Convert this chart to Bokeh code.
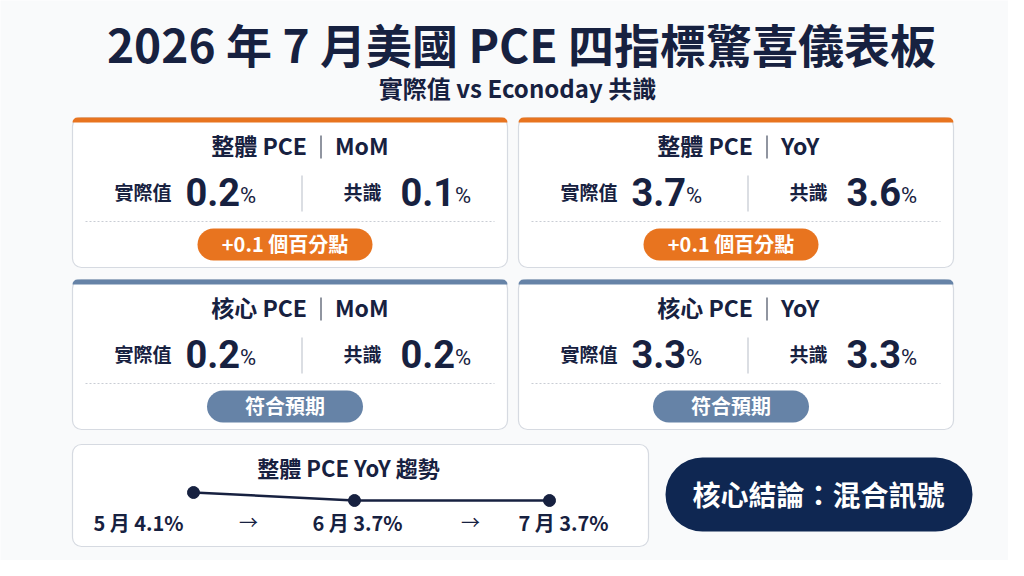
from bokeh.core.properties import value
from bokeh.embed import file_html
from bokeh.models import Range1d
from bokeh.plotting import figure
from bokeh.resources import INLINE

# data
metric_names = ["整體 PCE", "整體 PCE", "核心 PCE", "核心 PCE"]
metric_periods = ["MoM", "YoY", "MoM", "YoY"]
actual = [0.2, 3.7, 0.2, 3.3]
consensus = [0.1, 3.6, 0.2, 3.3]
badge_texts = ["+0.1 個百分點", "+0.1 個百分點", "符合預期", "符合預期"]

trend_months = ["5 月", "6 月", "7 月"]
trend_yoy = [4.1, 3.7, 3.7]

title = "2026 年 7 月美國 PCE 四指標驚喜儀表板"
subtitle = "實際值 vs Econoday 共識"
conclusion = "核心結論：混合訊號"

# styles
CJK = "Noto Sans CJK TC"
NUM = "Roboto"
NAVY = "#172140"
ORANGE = "#e8741f"
SLATE = "#6683a7"
BORDER = "#d6dae1"
BG = "#f9fafb"

# layout (pixel coordinates, y measured from the top)
card_lefts = [72, 518]
card_tops = [117, 279]
card_w, card_h = 435, 150
trend_box = (72, 648, 444, 546)
trend_pt_x = [193, 354, 549]
trend_label_x = [138, 357, 563]
arrow_x = [248, 470]

W, H = 1008, 560


def Y(y):
    return H - y


p = figure(width=W, height=H, x_range=Range1d(0, W), y_range=Range1d(0, H),
           output_backend="svg", toolbar_location=None, min_border=0)
p.axis.visible = False
p.grid.visible = False
p.outline_line_color = None
p.background_fill_color = BG
p.border_fill_color = BG


def txt(x, y, s, size, color=NAVY, align="center", font=CJK, style="bold"):
    p.text(x=[x], y=[Y(y)], text=[s], text_font=value(font), text_font_style=style,
           text_font_size=f"{size}px", text_color=color, text_align=align,
           text_baseline="middle")


def box(l, r, t, b, fill, line=None, radius=0, lw=1.2):
    p.quad(left=[l], right=[r], top=[Y(t)], bottom=[Y(b)], fill_color=fill,
           line_color=line, line_width=lw, border_radius=radius)


def num_width(s, size):
    return sum(0.27 if c == "." else 0.57 for c in s) * size


# title
txt(521, 42, title, 46)
txt(517, 87, subtitle, 24)

# four metric cards
for i in range(4):
    L = card_lefts[i % 2]
    T = card_tops[i // 2]
    R, B = L + card_w, T + card_h
    cx = (L + R) / 2
    accent = ORANGE if actual[i] != consensus[i] else SLATE

    box(L, R, T, B, "white", BORDER, radius=9)
    box(L, R, T, T + 5, accent, None, radius=(9, 9, 0, 0))

    # heading: name | period
    bar_x = cx + 31
    txt(bar_x - 14, T + 27, metric_names[i], 23, align="right")
    txt(bar_x + 14, T + 27, metric_periods[i], 23, align="left")
    p.segment(x0=[bar_x], y0=[Y(T + 18)], x1=[bar_x], y1=[Y(T + 41)], line_color="#6b7280",
              line_width=1.5)

    # actual vs consensus
    vy = T + 74
    a_s, c_s = f"{actual[i]:.1f}", f"{consensus[i]:.1f}"
    txt(L + 99, vy, "實際值", 19, align="right")
    txt(L + 113, vy, a_s, 38, align="left", font=NUM)
    txt(L + 114 + num_width(a_s, 38), vy + 4, "%", 22, align="left", font=NUM, style="normal")
    txt(L + 309, vy, "共識", 19, align="right")
    txt(L + 328, vy, c_s, 38, align="left", font=NUM)
    txt(L + 329 + num_width(c_s, 38), vy + 4, "%", 22, align="left", font=NUM, style="normal")
    p.segment(x0=[cx + 12], y0=[Y(T + 58)], x1=[cx + 12], y1=[Y(T + 94)],
              line_color="#cfd3da", line_width=1.5)

    # dotted rule
    p.segment(x0=[L + 13], y0=[Y(T + 104)], x1=[R - 13], y1=[Y(T + 104)],
              line_color="#c9cdd4", line_width=1, line_dash="2 2")

    # badge
    bw = 175 if accent == ORANGE else 156
    bx = cx - 5
    box(bx - bw / 2, bx + bw / 2, T + 111, T + 143, accent, None, radius=16)
    txt(bx, T + 126, badge_texts[i], 20, color="white")

# trend box
l, r, t, b = trend_box
box(l, r, t, b, "white", BORDER, radius=9)
txt(348, t + 22, "整體 PCE YoY 趨勢", 22)


def trend_y(v):
    return 500 - (v - 3.7) * 20


ys = [Y(trend_y(v)) for v in trend_yoy]
p.line(x=trend_pt_x, y=ys, line_color=NAVY, line_width=2.5)
p.scatter(x=trend_pt_x, y=ys, size=12, fill_color=NAVY, line_color=NAVY)
for k in range(3):
    txt(trend_label_x[k], 522, f"{trend_months[k]} {trend_yoy[k]:.1f}%", 20)
for ax in arrow_x:
    txt(ax, 521, "→", 19, style="normal")

# conclusion pill
box(665, 972, 457, 531, "#0f2752", None, radius=37)
txt(818, 493, conclusion, 28, color="white")

open("out.html", "w").write(file_html(p, INLINE))
